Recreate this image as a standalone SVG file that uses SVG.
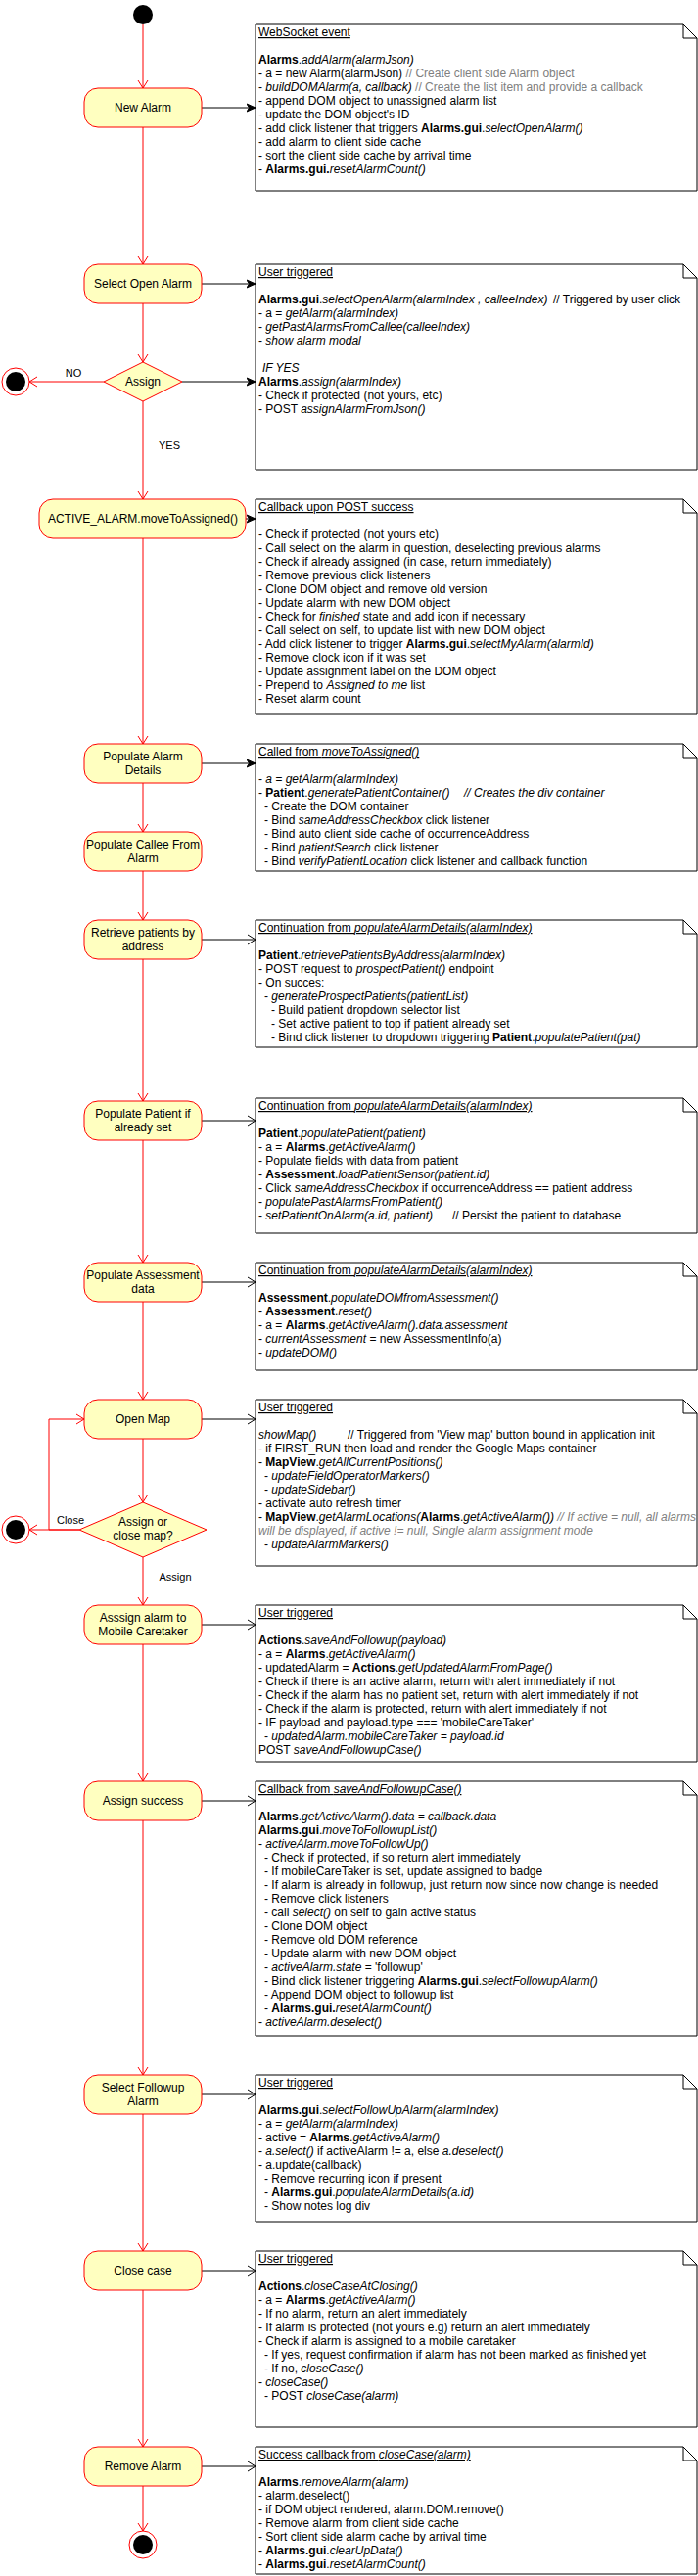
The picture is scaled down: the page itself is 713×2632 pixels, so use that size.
<svg xmlns="http://www.w3.org/2000/svg" width="713" height="2632" viewBox="0 0 713 2632">
<style>
.t{font-family:"Liberation Sans",Arial,Helvetica,sans-serif;font-size:12px;fill:#000}
.b{font-weight:bold}
.i{font-style:italic}
.g{fill:#808080}
.u{text-decoration:underline}
.lbl{font-family:"Liberation Sans",Arial,Helvetica,sans-serif;font-size:12px;fill:#000;text-anchor:middle}
.el{font-family:"Liberation Sans",Arial,Helvetica,sans-serif;font-size:11px;fill:#000;text-anchor:middle}
.act{fill:#ffffc0;stroke:#ff0000;stroke-width:1}
.note{fill:#fff;stroke:#000;stroke-width:1}
.fold{fill:none;stroke:#000;stroke-width:1}
.re{fill:none;stroke:#ff0000;stroke-width:1;marker-end:url(#ro)}
.bf{fill:none;stroke:#000;stroke-width:1;marker-end:url(#bf)}
.bo{fill:none;stroke:#000;stroke-width:1;marker-end:url(#bo)}
</style>
<defs>
<marker id="ro" viewBox="0 0 10 12" refX="9" refY="6" markerWidth="10" markerHeight="12" orient="auto" markerUnits="userSpaceOnUse"><path d="M1,1 L9,6 L1,11" fill="none" stroke="#ff0000" stroke-width="1"/></marker>
<marker id="bo" viewBox="0 0 10 12" refX="9" refY="6" markerWidth="10" markerHeight="12" orient="auto" markerUnits="userSpaceOnUse"><path d="M1,1 L9,6 L1,11" fill="none" stroke="#000" stroke-width="1"/></marker>
<marker id="bf" viewBox="0 0 10 10" refX="9" refY="5" markerWidth="10" markerHeight="10" orient="auto" markerUnits="userSpaceOnUse"><path d="M0,1 L9,5 L0,9 L2.5,5 Z" fill="#000" stroke="#000" stroke-width="1"/></marker>
</defs>
<rect width="713" height="2632" fill="#fff"/>

<g id="connectors">
<path class="re" d="M146,25 V90"/>
<path class="re" d="M146,130 V270"/>
<path class="re" d="M146,310 V370"/>
<path class="re" d="M106,390 H30"/>
<path class="re" d="M146,410 V510"/>
<path class="re" d="M146,550 V760"/>
<path class="re" d="M146,800 V850"/>
<path class="re" d="M146,890 V940"/>
<path class="re" d="M146,980 V1125"/>
<path class="re" d="M146,1165 V1290"/>
<path class="re" d="M146,1330 V1430"/>
<path class="re" d="M146,1470 V1535"/>
<path class="re" d="M81,1563 H30"/>
<path class="re" d="M81,1563 H50 V1450 H86"/>
<path class="re" d="M146,1591 V1640"/>
<path class="re" d="M146,1680 V1820"/>
<path class="re" d="M146,1860 V2120"/>
<path class="re" d="M146,2160 V2300"/>
<path class="re" d="M146,2340 V2500"/>
<path class="re" d="M146,2540 V2586"/>
<path class="bf" d="M206,110 H261"/>
<path class="bf" d="M206,290 H261"/>
<path class="bf" d="M186,390 H261"/>
<path class="bf" d="M251,530 H261"/>
<path class="bf" d="M206,780 H261"/>
<path class="bo" d="M206,960 H261"/>
<path class="bo" d="M206,1145 H261"/>
<path class="bo" d="M206,1310 H261"/>
<path class="bo" d="M206,1450 H261"/>
<path class="bo" d="M206,1660 H261"/>
<path class="bo" d="M206,1840 H261"/>
<path class="bo" d="M206,2140 H261"/>
<path class="bo" d="M206,2320 H261"/>
<path class="bo" d="M206,2520 H261"/>
<text class="el" x="75" y="385">NO</text>
<text class="el" x="173" y="459">YES</text>
<text class="el" x="72" y="1557">Close</text>
<text class="el" x="179" y="1615">Assign</text>
</g>

<g id="start"><circle cx="146" cy="15" r="10" fill="#000"/></g>
<g id="end1"><circle cx="16" cy="390" r="14" fill="#fff" stroke="#ff0000"/><circle cx="16" cy="390" r="10" fill="#000"/></g>
<g id="end2"><circle cx="16" cy="1563" r="14" fill="#fff" stroke="#ff0000"/><circle cx="16" cy="1563" r="10" fill="#000"/></g>
<g id="end3"><circle cx="146" cy="2600" r="14" fill="#fff" stroke="#ff0000"/><circle cx="146" cy="2600" r="10" fill="#000"/></g>

<g id="new-alarm"><rect class="act" x="86" y="90" width="120" height="40" rx="14"/><text class="lbl" x="146" y="114">New Alarm</text></g>
<g id="select-open-alarm"><rect class="act" x="86" y="270" width="120" height="40" rx="14"/><text class="lbl" x="146" y="294">Select Open Alarm</text></g>
<g id="assign"><path class="act" d="M146,370 L186,390 L146,410 L106,390 Z"/><text class="lbl" x="146" y="394">Assign</text></g>
<g id="move-to-assigned"><rect class="act" x="40" y="510" width="211" height="40" rx="14"/><text class="lbl" x="146" y="534">ACTIVE_ALARM.moveToAssigned()</text></g>
<g id="populate-alarm-details"><rect class="act" x="86" y="760" width="120" height="40" rx="14"/><text class="lbl" x="146" y="777">Populate Alarm</text><text class="lbl" x="146" y="791">Details</text></g>
<g id="populate-callee"><rect class="act" x="86" y="850" width="120" height="40" rx="14"/><text class="lbl" x="146" y="867">Populate Callee From</text><text class="lbl" x="146" y="881">Alarm</text></g>
<g id="retrieve-patients"><rect class="act" x="86" y="940" width="120" height="40" rx="14"/><text class="lbl" x="146" y="957">Retrieve patients by</text><text class="lbl" x="146" y="971">address</text></g>
<g id="populate-patient"><rect class="act" x="86" y="1125" width="120" height="40" rx="14"/><text class="lbl" x="146" y="1142">Populate Patient if</text><text class="lbl" x="146" y="1156">already set</text></g>
<g id="populate-assessment"><rect class="act" x="86" y="1290" width="120" height="40" rx="14"/><text class="lbl" x="146" y="1307">Populate Assessment</text><text class="lbl" x="146" y="1321">data</text></g>
<g id="open-map"><rect class="act" x="86" y="1430" width="120" height="40" rx="14"/><text class="lbl" x="146" y="1454">Open Map</text></g>
<g id="assign-or-close"><path class="act" d="M146,1535 L211,1563 L146,1591 L81,1563 Z"/><text class="lbl" x="146" y="1559">Assign or</text><text class="lbl" x="146" y="1573">close map?</text></g>
<g id="assign-mobile"><rect class="act" x="86" y="1640" width="120" height="40" rx="14"/><text class="lbl" x="146" y="1657">Asssign alarm to</text><text class="lbl" x="146" y="1671">Mobile Caretaker</text></g>
<g id="assign-success"><rect class="act" x="86" y="1820" width="120" height="40" rx="14"/><text class="lbl" x="146" y="1844">Assign success</text></g>
<g id="select-followup"><rect class="act" x="86" y="2120" width="120" height="40" rx="14"/><text class="lbl" x="146" y="2137">Select Followup</text><text class="lbl" x="146" y="2151">Alarm</text></g>
<g id="close-case"><rect class="act" x="86" y="2300" width="120" height="40" rx="14"/><text class="lbl" x="146" y="2324">Close case</text></g>
<g id="remove-alarm"><rect class="act" x="86" y="2500" width="120" height="40" rx="14"/><text class="lbl" x="146" y="2524">Remove Alarm</text></g>

<g id="note-websocket">
<path class="note" d="M261,25 H698 L712,39 V195 H261 Z"/><path class="fold" d="M698,25 V39 H712"/>
<text class="t u" x="264" y="37">WebSocket event</text>
<text class="t" x="264" y="65"><tspan class="b">Alarms</tspan>.<tspan class="i">addAlarm(alarmJson)</tspan></text>
<text class="t" x="264" y="79">- a = new Alarm(alarmJson) <tspan class="g">// Create client side Alarm object</tspan></text>
<text class="t" x="264" y="93">- <tspan class="i">buildDOMAlarm(a, callback)</tspan> <tspan class="g">// Create the list item and provide a callback</tspan></text>
<text class="t" x="264" y="107">- append DOM object to unassigned alarm list</text>
<text class="t" x="264" y="121">- update the DOM object's ID</text>
<text class="t" x="264" y="135">- add click listener that triggers <tspan class="b">Alarms.gui</tspan>.<tspan class="i">selectOpenAlarm()</tspan></text>
<text class="t" x="264" y="149">- add alarm to client side cache</text>
<text class="t" x="264" y="163">- sort the client side cache by arrival time</text>
<text class="t" x="264" y="177">- <tspan class="b">Alarms.gui.</tspan><tspan class="i">resetAlarmCount()</tspan></text>
</g>

<g id="note-select-open">
<path class="note" d="M261,270 H698 L712,284 V480 H261 Z"/><path class="fold" d="M698,270 V284 H712"/>
<text class="t u" x="264" y="282">User triggered</text>
<text class="t" x="264" y="310"><tspan class="b">Alarms.gui</tspan>.<tspan class="i">selectOpenAlarm(alarmIndex , calleeIndex)</tspan><tspan x="565">// Triggered by user click</tspan></text>
<text class="t" x="264" y="324">- a = <tspan class="i">getAlarm(alarmIndex)</tspan></text>
<text class="t" x="264" y="338">- <tspan class="i">getPastAlarmsFromCallee(calleeIndex)</tspan></text>
<text class="t" x="264" y="352">- <tspan class="i">show alarm modal</tspan></text>
<text class="t i" x="268" y="380">IF YES</text>
<text class="t" x="264" y="394"><tspan class="b">Alarms</tspan>.<tspan class="i">assign(alarmIndex)</tspan></text>
<text class="t" x="264" y="408">- Check if protected (not yours, etc)</text>
<text class="t" x="264" y="422">- POST <tspan class="i">assignAlarmFromJson()</tspan></text>
</g>

<g id="note-post-success">
<path class="note" d="M261,510 H698 L712,524 V730 H261 Z"/><path class="fold" d="M698,510 V524 H712"/>
<text class="t u" x="264" y="522">Callback upon POST success</text>
<text class="t" x="264" y="550">- Check if protected (not yours etc)</text>
<text class="t" x="264" y="564">- Call select on the alarm in question, deselecting previous alarms</text>
<text class="t" x="264" y="578">- Check if already assigned (in case, return immediately)</text>
<text class="t" x="264" y="592">- Remove previous click listeners</text>
<text class="t" x="264" y="606">- Clone DOM object and remove old version</text>
<text class="t" x="264" y="620">- Update alarm with new DOM object</text>
<text class="t" x="264" y="634">- Check for <tspan class="i">finished</tspan> state and add icon if necessary</text>
<text class="t" x="264" y="648">- Call select on self, to update list with new DOM object</text>
<text class="t" x="264" y="662">- Add click listener to trigger <tspan class="b">Alarms.gui</tspan>.<tspan class="i">selectMyAlarm(alarmId)</tspan></text>
<text class="t" x="264" y="676">- Remove clock icon if it was set</text>
<text class="t" x="264" y="690">- Update assignment label on the DOM object</text>
<text class="t" x="264" y="704">- Prepend to <tspan class="i">Assigned to me</tspan> list</text>
<text class="t" x="264" y="718">- Reset alarm count</text>
</g>

<g id="note-populate-details">
<path class="note" d="M261,760 H698 L712,774 V890 H261 Z"/><path class="fold" d="M698,760 V774 H712"/>
<text class="t u" x="264" y="772">Called from <tspan class="i">moveToAssigned()</tspan></text>
<text class="t" x="264" y="800">- <tspan class="i">a = getAlarm(alarmIndex)</tspan></text>
<text class="t" x="264" y="814">- <tspan class="b">Patient</tspan>.<tspan class="i">generatePatientContainer()</tspan><tspan class="i" x="474">// Creates the div container</tspan></text>
<text class="t" x="270" y="828">- Create the DOM container</text>
<text class="t" x="270" y="842">- Bind <tspan class="i">sameAddressCheckbox</tspan> click listener</text>
<text class="t" x="270" y="856">- Bind auto client side cache of occurrenceAddress</text>
<text class="t" x="270" y="870">- Bind <tspan class="i">patientSearch</tspan> click listener</text>
<text class="t" x="270" y="884">- Bind <tspan class="i">verifyPatientLocation</tspan> click listener and callback function</text>
</g>

<g id="note-retrieve">
<path class="note" d="M261,940 H698 L712,954 V1070 H261 Z"/><path class="fold" d="M698,940 V954 H712"/>
<text class="t u" x="264" y="952">Continuation from <tspan class="i">populateAlarmDetails(alarmIndex)</tspan></text>
<text class="t" x="264" y="980"><tspan class="b">Patient</tspan>.<tspan class="i">retrievePatientsByAddress(alarmIndex)</tspan></text>
<text class="t" x="264" y="994">- POST request to <tspan class="i">prospectPatient()</tspan> endpoint</text>
<text class="t" x="264" y="1008">- On succes:</text>
<text class="t" x="270" y="1022">- <tspan class="i">generateProspectPatients(patientList)</tspan></text>
<text class="t" x="277" y="1036">- Build patient dropdown selector list</text>
<text class="t" x="277" y="1050">- Set active patient to top if patient already set</text>
<text class="t" x="277" y="1064">- Bind click listener to dropdown triggering <tspan class="b">Patient</tspan>.<tspan class="i">populatePatient(pat)</tspan></text>
</g>

<g id="note-populate-patient">
<path class="note" d="M261,1122 H698 L712,1136 V1260 H261 Z"/><path class="fold" d="M698,1122 V1136 H712"/>
<text class="t u" x="264" y="1134">Continuation from <tspan class="i">populateAlarmDetails(alarmIndex)</tspan></text>
<text class="t" x="264" y="1162"><tspan class="b">Patient</tspan>.<tspan class="i">populatePatient(patient)</tspan></text>
<text class="t" x="264" y="1176">- a = <tspan class="b">Alarms</tspan>.<tspan class="i">getActiveAlarm()</tspan></text>
<text class="t" x="264" y="1190">- Populate fields with data from patient</text>
<text class="t" x="264" y="1204">- <tspan class="b">Assessment</tspan>.<tspan class="i">loadPatientSensor(patient.id)</tspan></text>
<text class="t" x="264" y="1218">- Click <tspan class="i">sameAddressCheckbox</tspan> if occurrenceAddress == patient address</text>
<text class="t" x="264" y="1232">- <tspan class="i">populatePastAlarmsFromPatient()</tspan></text>
<text class="t" x="264" y="1246">- <tspan class="i">setPatientOnAlarm(a.id, patient)</tspan><tspan x="462">// Persist the patient to database</tspan></text>
</g>

<g id="note-assessment">
<path class="note" d="M261,1290 H698 L712,1304 V1400 H261 Z"/><path class="fold" d="M698,1290 V1304 H712"/>
<text class="t u" x="264" y="1302">Continuation from <tspan class="i">populateAlarmDetails(alarmIndex)</tspan></text>
<text class="t" x="264" y="1330"><tspan class="b">Assessment</tspan>.<tspan class="i">populateDOMfromAssessment()</tspan></text>
<text class="t" x="264" y="1344">- <tspan class="b">Assessment</tspan>.<tspan class="i">reset()</tspan></text>
<text class="t" x="264" y="1358">- a = <tspan class="b">Alarms</tspan>.<tspan class="i">getActiveAlarm().data.assessment</tspan></text>
<text class="t" x="264" y="1372">- <tspan class="i">currentAssessment</tspan> = new AssessmentInfo(a)</text>
<text class="t" x="264" y="1386">- <tspan class="i">updateDOM()</tspan></text>
</g>

<g id="note-open-map">
<path class="note" d="M261,1430 H698 L712,1444 V1600 H261 Z"/><path class="fold" d="M698,1430 V1444 H712"/>
<text class="t u" x="264" y="1442">User triggered</text>
<text class="t" x="264" y="1470"><tspan class="i">showMap()</tspan><tspan x="355">// Triggered from 'View map' button bound in application init</tspan></text>
<text class="t" x="264" y="1484">- if FIRST_RUN then load and render the Google Maps container</text>
<text class="t" x="264" y="1498">- <tspan class="b">MapView</tspan>.<tspan class="i">getAllCurrentPositions()</tspan></text>
<text class="t" x="270" y="1512">- <tspan class="i">updateFieldOperatorMarkers()</tspan></text>
<text class="t" x="270" y="1526">- <tspan class="i">updateSidebar()</tspan></text>
<text class="t" x="264" y="1540">- activate auto refresh timer</text>
<text class="t" x="264" y="1554">- <tspan class="b">MapView</tspan>.<tspan class="i">getAlarmLocations(</tspan><tspan class="b">Alarms</tspan>.<tspan class="i">getActiveAlarm())</tspan> <tspan class="g i">// If active = null, all alarms</tspan></text>
<text class="t g i" x="264" y="1568">will be displayed, if active != null, Single alarm assignment mode</text>
<text class="t" x="270" y="1582">- <tspan class="i">updateAlarmMarkers()</tspan></text>
</g>

<g id="note-assign-mobile">
<path class="note" d="M261,1640 H698 L712,1654 V1800 H261 Z"/><path class="fold" d="M698,1640 V1654 H712"/>
<text class="t u" x="264" y="1652">User triggered</text>
<text class="t" x="264" y="1680"><tspan class="b">Actions</tspan>.<tspan class="i">saveAndFollowup(payload)</tspan></text>
<text class="t" x="264" y="1694">- a = <tspan class="b">Alarms</tspan>.<tspan class="i">getActiveAlarm()</tspan></text>
<text class="t" x="264" y="1708">- updatedAlarm = <tspan class="b">Actions</tspan>.<tspan class="i">getUpdatedAlarmFromPage()</tspan></text>
<text class="t" x="264" y="1722">- Check if there is an active alarm, return with alert immediately if not</text>
<text class="t" x="264" y="1736">- Check if the alarm has no patient set, return with alert immediately if not</text>
<text class="t" x="264" y="1750">- Check if the alarm is protected, return with alert immediately if not</text>
<text class="t" x="264" y="1764">- IF payload and payload.type === 'mobileCareTaker'</text>
<text class="t" x="270" y="1778">- <tspan class="i">updatedAlarm.mobileCareTaker = payload.id</tspan></text>
<text class="t" x="264" y="1792">POST <tspan class="i">saveAndFollowupCase()</tspan></text>
</g>

<g id="note-assign-success">
<path class="note" d="M261,1820 H698 L712,1834 V2080 H261 Z"/><path class="fold" d="M698,1820 V1834 H712"/>
<text class="t u" x="264" y="1832">Callback from <tspan class="i">saveAndFollowupCase()</tspan></text>
<text class="t" x="264" y="1860"><tspan class="b">Alarms</tspan>.<tspan class="i">getActiveAlarm().data = callback.data</tspan></text>
<text class="t" x="264" y="1874"><tspan class="b">Alarms.gui</tspan>.<tspan class="i">moveToFollowupList()</tspan></text>
<text class="t" x="264" y="1888">- <tspan class="i">activeAlarm.moveToFollowUp()</tspan></text>
<text class="t" x="270" y="1902">- Check if protected, if so return alert immediately</text>
<text class="t" x="270" y="1916">- If mobileCareTaker is set, update assigned to badge</text>
<text class="t" x="270" y="1930">- If alarm is already in followup, just return now since now change is needed</text>
<text class="t" x="270" y="1944">- Remove click listeners</text>
<text class="t" x="270" y="1958">- call <tspan class="i">select()</tspan> on self to gain active status</text>
<text class="t" x="270" y="1972">- Clone DOM object</text>
<text class="t" x="270" y="1986">- Remove old DOM reference</text>
<text class="t" x="270" y="2000">- Update alarm with new DOM object</text>
<text class="t" x="270" y="2014">- <tspan class="i">activeAlarm.state</tspan> = 'followup'</text>
<text class="t" x="270" y="2028">- Bind click listener triggering <tspan class="b">Alarms.gui</tspan>.<tspan class="i">selectFollowupAlarm()</tspan></text>
<text class="t" x="270" y="2042">- Append DOM object to followup list</text>
<text class="t" x="270" y="2056">- <tspan class="b">Alarms.gui.</tspan><tspan class="i">resetAlarmCount()</tspan></text>
<text class="t" x="264" y="2070">- <tspan class="i">activeAlarm.deselect()</tspan></text>
</g>

<g id="note-select-followup">
<path class="note" d="M261,2120 H698 L712,2134 V2270 H261 Z"/><path class="fold" d="M698,2120 V2134 H712"/>
<text class="t u" x="264" y="2132">User triggered</text>
<text class="t" x="264" y="2160"><tspan class="b">Alarms.gui</tspan>.<tspan class="i">selectFollowUpAlarm(alarmIndex)</tspan></text>
<text class="t" x="264" y="2174">- a = <tspan class="i">getAlarm(alarmIndex)</tspan></text>
<text class="t" x="264" y="2188">- active = <tspan class="b">Alarms</tspan>.<tspan class="i">getActiveAlarm()</tspan></text>
<text class="t" x="264" y="2202">- <tspan class="i">a.select()</tspan> if activeAlarm != a, else <tspan class="i">a.deselect()</tspan></text>
<text class="t" x="264" y="2216">- a.update(callback)</text>
<text class="t" x="270" y="2230">- Remove recurring icon if present</text>
<text class="t" x="270" y="2244">- <tspan class="b">Alarms.gui</tspan>.<tspan class="i">populateAlarmDetails(a.id)</tspan></text>
<text class="t" x="270" y="2258">- Show notes log div</text>
</g>

<g id="note-close-case">
<path class="note" d="M261,2300 H698 L712,2314 V2480 H261 Z"/><path class="fold" d="M698,2300 V2314 H712"/>
<text class="t u" x="264" y="2312">User triggered</text>
<text class="t" x="264" y="2340"><tspan class="b">Actions</tspan>.<tspan class="i">closeCaseAtClosing()</tspan></text>
<text class="t" x="264" y="2354">- a = <tspan class="b">Alarms</tspan>.<tspan class="i">getActiveAlarm()</tspan></text>
<text class="t" x="264" y="2368">- If no alarm, return an alert immediately</text>
<text class="t" x="264" y="2382">- If alarm is protected (not yours e.g) return an alert immediately</text>
<text class="t" x="264" y="2396">- Check if alarm is assigned to a mobile caretaker</text>
<text class="t" x="270" y="2410">- If yes, request confirmation if alarm has not been marked as finished yet</text>
<text class="t" x="270" y="2424">- If no, <tspan class="i">closeCase()</tspan></text>
<text class="t" x="264" y="2438">- <tspan class="i">closeCase()</tspan></text>
<text class="t" x="270" y="2452">- POST <tspan class="i">closeCase(alarm)</tspan></text>
</g>

<g id="note-remove-alarm">
<path class="note" d="M261,2500 H698 L712,2514 V2630 H261 Z"/><path class="fold" d="M698,2500 V2514 H712"/>
<text class="t u" x="264" y="2512">Success callback from <tspan class="i">closeCase(alarm)</tspan></text>
<text class="t" x="264" y="2540"><tspan class="b">Alarms</tspan>.<tspan class="i">removeAlarm(alarm)</tspan></text>
<text class="t" x="264" y="2554">- alarm.deselect()</text>
<text class="t" x="264" y="2568">- if DOM object rendered, alarm.DOM.remove()</text>
<text class="t" x="264" y="2582">- Remove alarm from client side cache</text>
<text class="t" x="264" y="2596">- Sort client side alarm cache by arrival time</text>
<text class="t" x="264" y="2610">- <tspan class="b">Alarms.gui</tspan>.<tspan class="i">clearUpData()</tspan></text>
<text class="t" x="264" y="2624">- <tspan class="b">Alarms.gui</tspan>.<tspan class="i">resetAlarmCount()</tspan></text>
</g>
</svg>
